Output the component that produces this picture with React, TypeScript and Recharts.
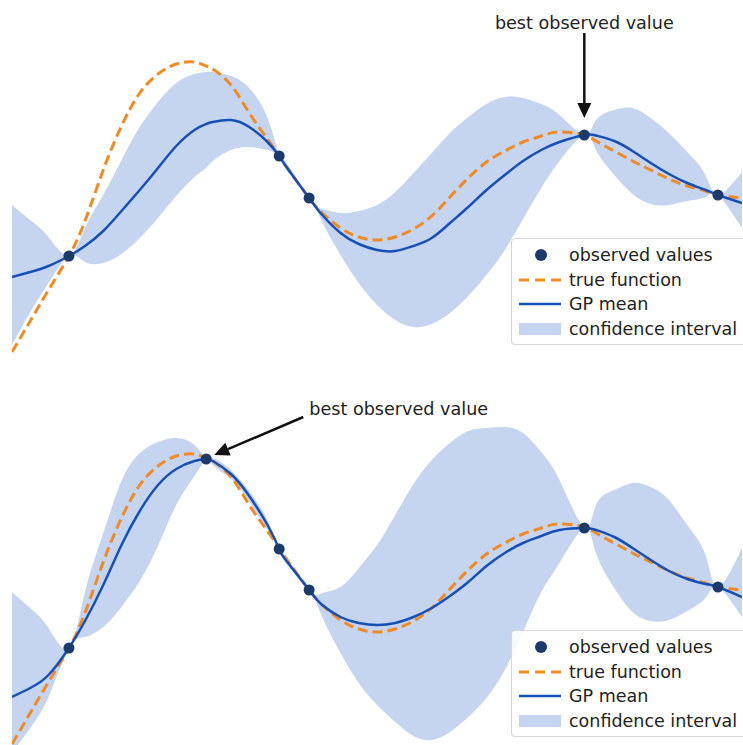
import React from "react";
import { Area, ComposedChart, Line, ReferenceLine, XAxis, YAxis } from "recharts";

// shared x grid (observation x's included so the band pinches there)
const xs = [0, 0.25, 0.5, 0.78, 1, 1.25, 1.5, 1.75, 2, 2.25, 2.5, 2.66, 2.75, 3, 3.25, 3.5, 3.66, 3.75, 4.07, 4.25, 4.5, 4.75, 5, 5.25, 5.5, 5.75, 6, 6.25, 6.5, 6.75, 7, 7.25, 7.5, 7.84, 8, 8.25, 8.5, 8.75, 9, 9.25, 9.5, 9.67, 10];

const trueFn = [-1.92, -1.3, -0.68, 0.0, 0.7, 1.72, 2.6, 3.26, 3.64, 3.84, 3.88, 3.8, 3.74, 3.42, 2.86, 2.34, 2.0, 1.8, 1.16, 0.86, 0.56, 0.38, 0.32, 0.38, 0.54, 0.8, 1.18, 1.56, 1.88, 2.1, 2.28, 2.4, 2.48, 2.42, 2.3, 2.1, 1.9, 1.72, 1.54, 1.4, 1.3, 1.22, 1.16];

// top panel: 5 observations
const meanTop = [-0.42, -0.32, -0.2, 0.0, 0.2, 0.5, 0.9, 1.32, 1.76, 2.2, 2.52, 2.64, 2.68, 2.72, 2.58, 2.28, 2.0, 1.8, 1.16, 0.82, 0.46, 0.24, 0.12, 0.1, 0.2, 0.36, 0.66, 0.98, 1.32, 1.62, 1.9, 2.12, 2.28, 2.42, 2.41, 2.3, 2.1, 1.86, 1.64, 1.46, 1.32, 1.22, 1.06];
const upperTop = [1.02, 0.72, 0.38, 0.0, 0.56, 1.22, 1.92, 2.58, 3.08, 3.46, 3.64, 3.68, 3.68, 3.6, 3.36, 2.76, 2.0, 1.88, 1.16, 0.94, 0.86, 0.9, 1.02, 1.28, 1.66, 2.06, 2.46, 2.78, 3.04, 3.18, 3.16, 3.04, 2.82, 2.42, 2.72, 2.92, 2.96, 2.76, 2.46, 2.08, 1.62, 1.22, 1.68];
const lowerTop = [-1.78, -1.12, -0.54, 0.0, -0.12, -0.14, 0.04, 0.36, 0.76, 1.2, 1.58, 1.76, 1.9, 2.12, 2.18, 2.12, 2.0, 1.74, 1.16, 0.68, 0.02, -0.54, -0.98, -1.28, -1.42, -1.36, -1.14, -0.8, -0.38, 0.12, 0.74, 1.36, 1.9, 2.42, 2.12, 1.62, 1.24, 1.04, 1.02, 1.1, 1.18, 1.22, 0.56];
const obsTopX = [0.78, 3.66, 4.07, 7.84, 9.67];
const obsTopY = [0.0, 2.0, 1.16, 2.42, 1.22];

// bottom panel: 6 observations
const meanBot = [-0.98, -0.8, -0.54, 0.0, 0.54, 1.26, 2.06, 2.74, 3.26, 3.58, 3.74, 3.78, 3.74, 3.48, 3.04, 2.46, 1.98, 1.76, 1.16, 0.86, 0.62, 0.5, 0.46, 0.5, 0.62, 0.8, 1.04, 1.32, 1.64, 1.9, 2.1, 2.24, 2.36, 2.4, 2.36, 2.22, 2.0, 1.76, 1.54, 1.38, 1.28, 1.22, 1.02];
const upperBot = [1.12, 0.8, 0.4, 0.0, 1.12, 2.3, 3.34, 3.9, 4.12, 4.2, 4.06, 3.78, 3.8, 3.56, 3.14, 2.56, 1.98, 1.82, 1.16, 1.1, 1.22, 1.6, 2.06, 2.66, 3.28, 3.76, 4.1, 4.34, 4.4, 4.42, 4.3, 3.92, 3.36, 2.4, 2.86, 3.16, 3.3, 3.22, 2.96, 2.46, 1.86, 1.22, 2.0];
const lowerBot = [-2.1, -1.6, -0.98, 0.0, 0.22, 0.42, 0.82, 1.34, 2.04, 2.86, 3.44, 3.78, 3.66, 3.38, 2.92, 2.36, 1.98, 1.7, 1.16, 0.62, -0.1, -0.7, -1.14, -1.48, -1.76, -1.84, -1.68, -1.38, -1.0, -0.44, 0.32, 1.12, 1.7, 2.4, 1.9, 1.2, 0.72, 0.54, 0.56, 0.74, 1.0, 1.22, 0.62];
const obsBotX = [0.78, 2.66, 3.66, 4.07, 7.84, 9.67];
const obsBotY = [0.0, 3.78, 1.98, 1.16, 2.4, 1.22];

const legendLabels = ["observed values", "true function", "GP mean", "confidence interval"];
const annotationText = "best observed value";

const C = {
    band: "#c6d5ef",
    mean: "#1550b8",
    truth: "#f28a22",
    obs: "#1d3a6c",
    text: "#222",
};
const FONT = "'DejaVu Sans', Verdana, sans-serif";

function buildRows(mean: number[], upper: number[], lower: number[]) {
    return xs.map((x, i) => ({ x, truth: trueFn[i], mean: mean[i], band: [lower[i], upper[i]] }));
}

function buildObs(ox: number[], oy: number[]) {
    return ox.map((x, i) => ({ x, y: oy[i] }));
}

function arrowShape(mode: "above" | "right") {
    return (p: any) => {
        const { x1, y1, x2, y2 } = p;
        const dx = x2 - x1;
        const dy = y2 - y1;
        const len = Math.hypot(dx, dy) || 1;
        const ux = dx / len;
        const uy = dy / len;
        const head = 15;
        const half = 7;
        const bx = x2 - ux * head;
        const by = y2 - uy * head;
        const pts = `${x2},${y2} ${bx - uy * half},${by + ux * half} ${bx + uy * half},${by - ux * half}`;
        return (
            <g>
                <line x1={x1} y1={y1} x2={bx} y2={by} stroke="#111" strokeWidth={2.5} />
                <polygon points={pts} fill="#111" />
                <text
                    x={mode === "above" ? x1 : x1 + 6}
                    y={mode === "above" ? y1 - 4 : y1 - 2}
                    textAnchor={mode === "above" ? "middle" : "start"}
                    fontFamily={FONT}
                    fontSize={17.6}
                    fill={C.text}
                >
                    {annotationText}
                </text>
            </g>
        );
    };
}

function LegendHandle({ index }: { index: number }) {
    return (
        <svg width={44} height={20} style={{ position: "absolute", left: 6, top: 0 }}>
            {index === 0 && <circle cx={23} cy={10} r={6} fill={C.obs} />}
            {index === 1 && <line x1={1} y1={10} x2={43} y2={10} stroke={C.truth} strokeWidth={3} strokeDasharray="10 6" />}
            {index === 2 && <line x1={1} y1={10} x2={43} y2={10} stroke={C.mean} strokeWidth={2.5} />}
            {index === 3 && <rect x={1} y={4} width={42} height={12} fill={C.band} />}
        </svg>
    );
}

function LegendBox({ top }: { top: number }) {
    return (
        <div
            style={{
                position: "absolute",
                left: 511,
                top,
                width: 250,
                height: 107,
                boxSizing: "border-box",
                border: "1px solid #d6d6d6",
                borderRadius: 4,
                background: "rgba(255,255,255,0.88)",
            }}
        >
            {legendLabels.map((label, i) => (
                <div key={label} style={{ position: "absolute", left: 0, top: 6 + i * 24.7, height: 20, width: 250 }}>
                    <LegendHandle index={i} />
                    <span
                        style={{
                            position: "absolute",
                            left: 57,
                            top: 0,
                            lineHeight: "20px",
                            fontFamily: FONT,
                            fontSize: 17.5,
                            color: C.text,
                            whiteSpace: "nowrap",
                        }}
                    >
                        {label}
                    </span>
                </div>
            ))}
        </div>
    );
}

interface PanelProps {
    top: number;
    height: number;
    domain: [number, number];
    rows: any[];
    obs: { x: number; y: number }[];
    arrow: { from: { x: number; y: number }; to: { x: number; y: number }; mode: "above" | "right" };
    legendTop: number;
}

function Panel({ top, height, domain, rows, obs, arrow, legendTop }: PanelProps) {
    return (
        <div style={{ position: "absolute", left: 0, top, width: 743, height }}>
            <ComposedChart width={743} height={height} data={rows} margin={{ top: 0, right: 1, bottom: 0, left: 12 }}>
                <XAxis type="number" dataKey="x" domain={[0, 10]} hide allowDataOverflow />
                <YAxis type="number" domain={domain} hide allowDataOverflow />
                <Area type="natural" dataKey="band" stroke="none" fill={C.band} fillOpacity={1} isAnimationActive={false} />
                <Line
                    type="natural"
                    dataKey="truth"
                    stroke={C.truth}
                    strokeWidth={3}
                    strokeDasharray="10 5"
                    dot={false}
                    isAnimationActive={false}
                />
                <Line type="natural" dataKey="mean" stroke={C.mean} strokeWidth={2.5} dot={false} isAnimationActive={false} />
                <Line
                    data={obs}
                    dataKey="y"
                    stroke="none"
                    dot={{ r: 5.5, fill: C.obs, stroke: C.obs, strokeWidth: 0 }}
                    isAnimationActive={false}
                />
                <ReferenceLine segment={[arrow.from, arrow.to]} ifOverflow="visible" shape={arrowShape(arrow.mode)} />
            </ComposedChart>
            <LegendBox top={legendTop - top} />
        </div>
    );
}

export default function App() {
    return (
        <div style={{ position: "relative", width: 743, height: 745, overflow: "hidden", background: "#fff" }}>
            <style>{`body{margin:0}`}</style>
            <Panel
                top={0}
                height={372}
                domain={[-2.32, 5.12]}
                rows={buildRows(meanTop, upperTop, lowerTop)}
                obs={buildObs(obsTopX, obsTopY)}
                arrow={{ from: { x: 7.84, y: 4.46 }, to: { x: 7.84, y: 2.76 }, mode: "above" }}
                legendTop={238}
            />
            <Panel
                top={372}
                height={373}
                domain={[-1.94, 5.52]}
                rows={buildRows(meanBot, upperBot, lowerBot)}
                obs={buildObs(obsBotX, obsBotY)}
                arrow={{ from: { x: 3.99, y: 4.62 }, to: { x: 2.77, y: 3.86 }, mode: "right" }}
                legendTop={630}
            />
        </div>
    );
}
